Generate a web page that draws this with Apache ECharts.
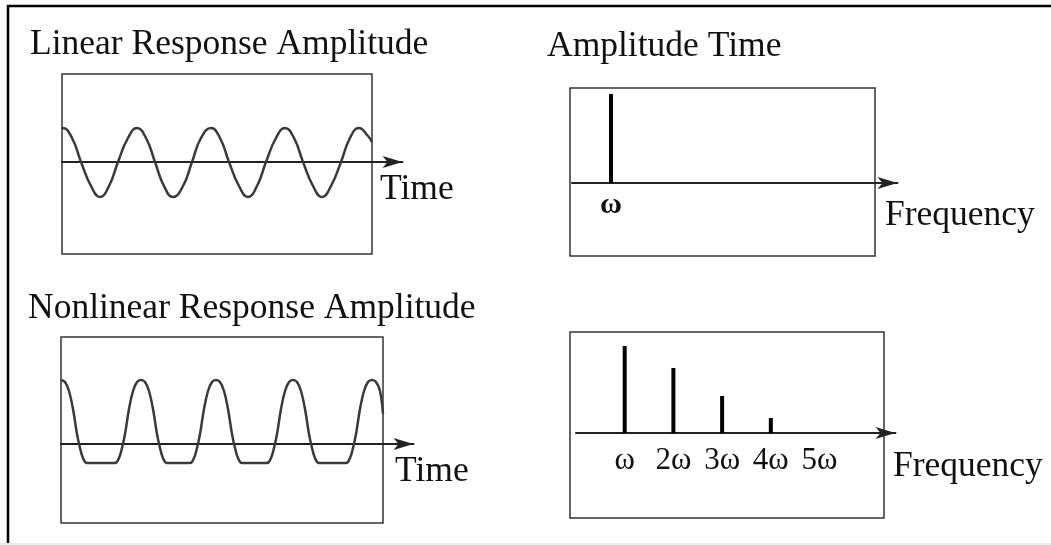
<!DOCTYPE html>
<html>
<head>
<meta charset="utf-8">
<script src="https://cdn.jsdelivr.net/npm/echarts@6/dist/echarts.min.js"></script>
<style>
html,body{margin:0;padding:0;background:#fff;}
#chart{width:1051px;height:545px;}
</style>
</head>
<body>
<div id="chart"></div>
<script>
// ---- Data ----
// Linear response (time domain): time units, amplitude units (axis = 0)
const linearT = [0, 1, 10, 19, 29, 38, 47, 56, 66, 75, 84, 93, 102, 111, 121, 130, 139, 149, 158, 167, 177, 186, 195, 204, 214, 223, 232, 241, 251, 260, 269, 279, 288, 297, 306, 310];
const linearY = [33, 34, 24, 0, -24, -35, -24, 0, 24, 34, 24, 0, -24, -35, -24, 0, 24, 34, 24, 0, -24, -35, -24, 0, 24, 34, 24, 0, -24, -35, -24, 0, 24, 34, 26, 20];

// Nonlinear response (time domain)
const nonlinT = [0, 4, 8, 12, 16, 19, 22, 26, 40,
  54, 58, 61, 64, 68, 72, 76, 80, 84, 88, 92, 96, 99, 102, 106, 118,
  129, 133, 136, 139, 143, 147, 151, 155, 159, 163, 167, 171, 174, 177, 181, 194,
  206, 210, 213, 216, 220, 224, 228, 232, 236, 240, 244, 248, 251, 254, 258, 272,
  285, 289, 292, 295, 299, 303, 307, 311, 315, 319, 322];
const nonlinY = [64, 62, 53, 35, 10, -4, -14, -19, -19,
  -19, -14, -4, 10, 35, 53, 62, 64, 62, 53, 35, 10, -4, -14, -19, -19,
  -19, -14, -4, 10, 35, 53, 62, 64, 62, 53, 35, 10, -4, -14, -19, -19,
  -19, -14, -4, 10, 35, 53, 62, 64, 62, 53, 35, 10, -4, -14, -19, -19,
  -19, -14, -4, 10, 35, 53, 62, 64, 62, 53, 30];

// Spectra (frequency in multiples of ω)
const linearFreq = [1];
const linearAmp = [89];
const harmonicFreq = [1, 2, 3, 4];
const harmonicAmp = [87, 65, 37, 15];

// Tick labels
const linearTickLabels = ['', 'ω'];
const harmonicTickLabels = ['', 'ω', '2ω', '3ω', '4ω', '5ω'];

// Texts
const titleLinear = 'Linear Response Amplitude';
const titleSpectrum = 'Amplitude Time';
const titleNonlinear = 'Nonlinear Response Amplitude';
const timeName = 'Time';
const freqName = 'Frequency';

// ---- Build ----
const zip = (a, b) => a.map((v, i) => [v, b[i]]);
const SERIF = '"Liberation Serif", "Times New Roman", serif';
const FS = 35.5;
const BASE = 24.5; // baseline offset from text top for FS

function txt(str, left, baseline) {
  return {
    type: 'text', x: left, y: baseline - BASE, z: 10,
    style: {
      text: str, x: 0, y: 0, font: FS + 'px ' + SERIF, fill: '#111',
      textAlign: 'left', textVerticalAlign: 'top', align: 'left', verticalAlign: 'top'
    }
  };
}

const frameGrid = (l, t, w, h) => ({ left: l, top: t, width: w, height: h, show: true, borderColor: '#333', borderWidth: 1.5, backgroundColor: 'transparent', containLabel: false });
const dataGrid = (l, t, w, h) => ({ left: l, top: t, width: w, height: h, show: false, containLabel: false });

const arrowLine = { show: true, onZero: true, symbol: ['none', 'arrow'], symbolSize: [9, 20], lineStyle: { color: '#222', width: 2 } };

const option = {
  animation: false,
  backgroundColor: '#fff',
  grid: [
    frameGrid(62, 74, 310, 180),
    frameGrid(570, 88, 305, 168),
    frameGrid(61, 337, 322, 186),
    frameGrid(570, 332, 314, 186),
    dataGrid(62, 74, 340.5, 180),
    dataGrid(572, 88, 325.5, 95),
    dataGrid(61, 337, 352.5, 186),
    dataGrid(576, 332, 319.5, 101)
  ],
  xAxis: [
    { gridIndex: 0, type: 'value', show: false, min: 0, max: 1 },
    { gridIndex: 1, type: 'value', show: false, min: 0, max: 1 },
    { gridIndex: 2, type: 'value', show: false, min: 0, max: 1 },
    { gridIndex: 3, type: 'value', show: false, min: 0, max: 1 },
    { gridIndex: 4, type: 'value', min: 0, max: 340.5, axisLine: arrowLine, axisTick: { show: false }, axisLabel: { show: false }, splitLine: { show: false } },
    { gridIndex: 5, type: 'value', min: 0, max: 8.35, interval: 1, axisLine: arrowLine, axisTick: { show: false }, splitLine: { show: false },
      axisLabel: { show: true, margin: 7, color: '#111', fontFamily: SERIF, fontSize: 30, fontWeight: 'bold',
        formatter: v => (Number.isInteger(v) && linearTickLabels[v]) ? linearTickLabels[v] : '' } },
    { gridIndex: 6, type: 'value', min: 0, max: 352.5, axisLine: arrowLine, axisTick: { show: false }, axisLabel: { show: false }, splitLine: { show: false } },
    { gridIndex: 7, type: 'value', min: 0, max: 6.56, interval: 1, axisLine: arrowLine, axisTick: { show: false }, splitLine: { show: false },
      axisLabel: { show: true, margin: 12, color: '#111', fontFamily: SERIF, fontSize: 31,
        formatter: v => (Number.isInteger(v) && harmonicTickLabels[v]) ? harmonicTickLabels[v] : '' } }
  ],
  yAxis: [
    { gridIndex: 0, type: 'value', show: false, min: 0, max: 1 },
    { gridIndex: 1, type: 'value', show: false, min: 0, max: 1 },
    { gridIndex: 2, type: 'value', show: false, min: 0, max: 1 },
    { gridIndex: 3, type: 'value', show: false, min: 0, max: 1 },
    { gridIndex: 4, type: 'value', show: false, min: -92, max: 88 },
    { gridIndex: 5, type: 'value', show: false, min: 0, max: 95 },
    { gridIndex: 6, type: 'value', show: false, min: -79, max: 107 },
    { gridIndex: 7, type: 'value', show: false, min: 0, max: 101 }
  ],
  series: [
    { type: 'line', xAxisIndex: 4, yAxisIndex: 4, data: zip(linearT, linearY), smooth: 0.5, showSymbol: false, symbol: 'none',
      lineStyle: { color: '#3a3a3a', width: 2.5 }, z: 3 },
    { type: 'bar', xAxisIndex: 5, yAxisIndex: 5, data: zip(linearFreq, linearAmp), barWidth: 4, itemStyle: { color: '#000' }, z: 3 },
    { type: 'line', xAxisIndex: 6, yAxisIndex: 6, data: zip(nonlinT, nonlinY), smooth: 0.4, showSymbol: false, symbol: 'none',
      lineStyle: { color: '#3a3a3a', width: 2.5 }, z: 3 },
    { type: 'bar', xAxisIndex: 7, yAxisIndex: 7, data: zip(harmonicFreq, harmonicAmp), barWidth: 4, itemStyle: { color: '#000' }, z: 3 }
  ],
  graphic: [
    { type: 'line', shape: { x1: 7, y1: 6, x2: 1051, y2: 6 }, style: { stroke: '#000', lineWidth: 2.5 }, z: 0 },
    { type: 'line', shape: { x1: 8, y1: 5, x2: 8, y2: 543 }, style: { stroke: '#000', lineWidth: 2.5 }, z: 0 },
    { type: 'rect', shape: { x: 0, y: 543, width: 1051, height: 2 }, style: { fill: '#ececec' }, z: 1 },
    txt(titleLinear, 30, 51),
    txt(titleSpectrum, 547, 53),
    txt(titleNonlinear, 28, 315),
    txt(timeName, 380, 196),
    txt(freqName, 885, 222),
    txt(timeName, 395, 478),
    txt(freqName, 893, 473)
  ]
};

const chart = echarts.init(document.getElementById('chart'), null, { renderer: 'canvas' });
chart.setOption(option);
</script>
</body>
</html>
